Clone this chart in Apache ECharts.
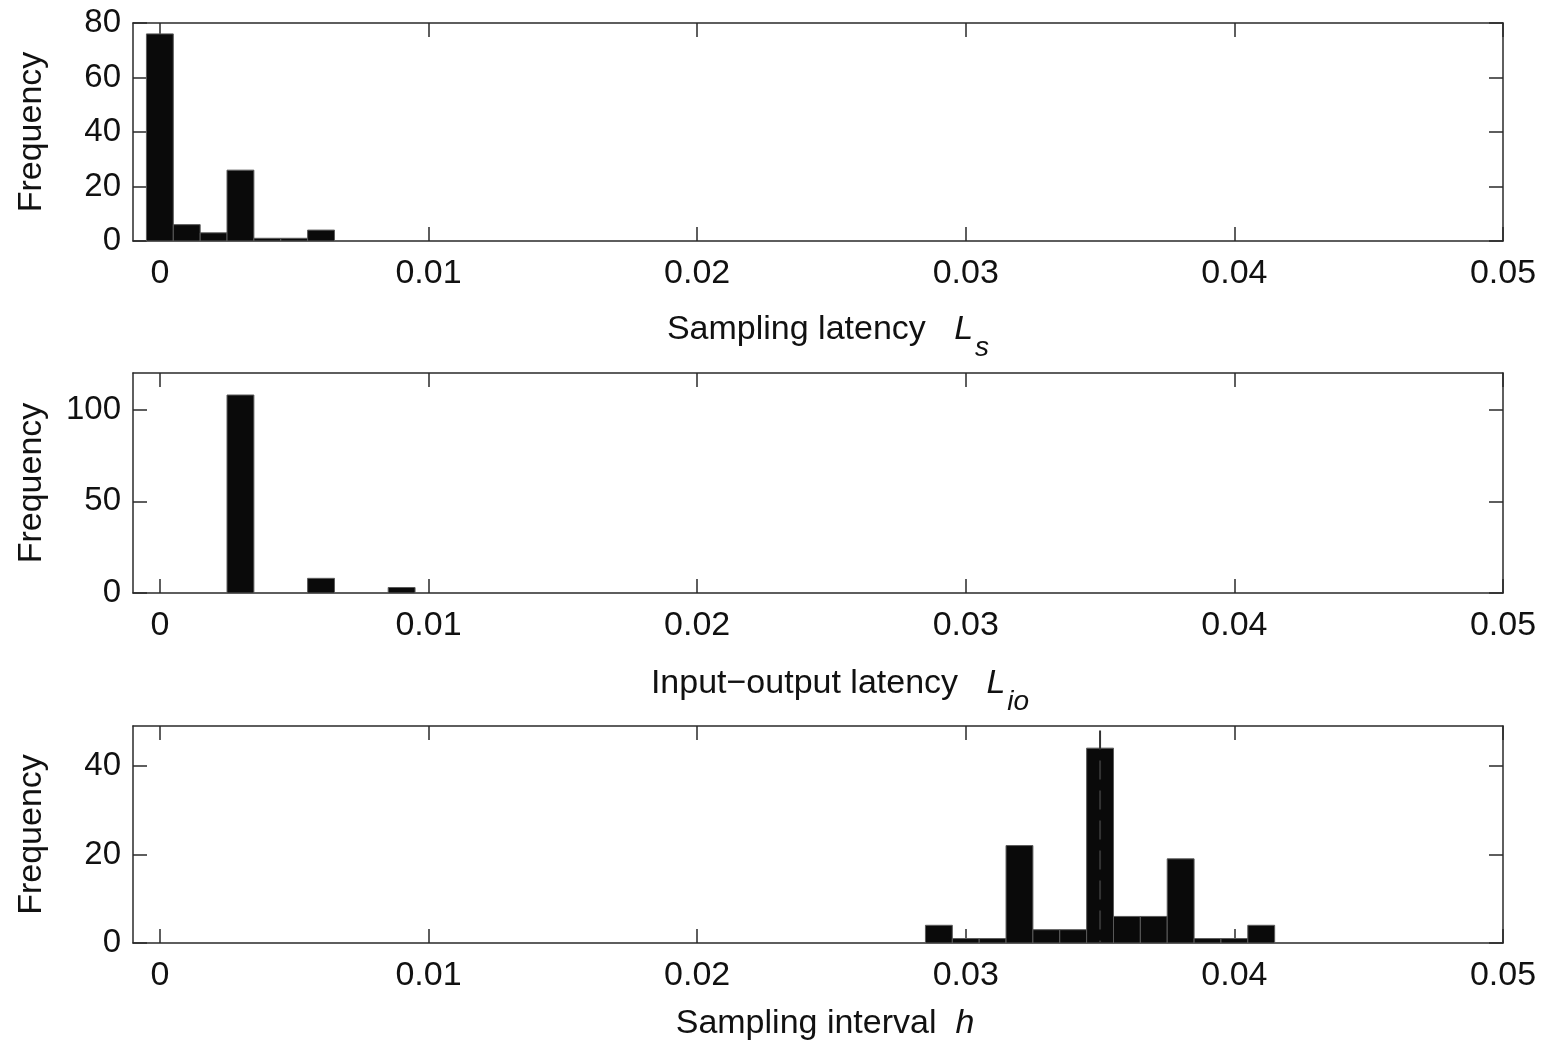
<!DOCTYPE html>
<html>
<head>
<meta charset="utf-8">
<script src="https://cdn.jsdelivr.net/npm/echarts@6/dist/echarts.min.js"></script>
<style>
html,body{margin:0;padding:0;background:#fff;}
#chart{width:1547px;height:1043px;}
</style>
</head>
<body>
<div id="chart"></div>
<script>
// ---- data ----
const binWidth = 0.001;
const xTickValues = [0, 0.01, 0.02, 0.03, 0.04, 0.05];
const xTickLabels = ['0', '0.01', '0.02', '0.03', '0.04', '0.05'];

const lsCenters = [0, 0.001, 0.002, 0.003, 0.004, 0.005, 0.006];
const lsCounts  = [76, 6, 3, 26, 1, 1, 4];
const lsYTicks  = [0, 20, 40, 60, 80];

const lioCenters = [0.003, 0.006, 0.009];
const lioCounts  = [108, 8, 3];
const lioYTicks  = [0, 50, 100];

const hCenters = [0.029, 0.030, 0.031, 0.032, 0.033, 0.034, 0.035, 0.036, 0.037, 0.038, 0.039, 0.040, 0.041];
const hCounts  = [4, 1, 1, 22, 3, 3, 44, 6, 6, 19, 1, 1, 4];
const hYTicks  = [0, 20, 40];
const hMarker  = [[0.035, 48], [0.035, 0]];

const panels = [
  {centers: lsCenters, counts: lsCounts, yTicks: lsYTicks, yMax: 80, top: 23, height: 218, gap: 68, shift: 20,
   name: '{n|Sampling latency  }{i| L}{s|s}'},
  {centers: lioCenters, counts: lioCounts, yTicks: lioYTicks, yMax: 120, top: 373, height: 220, gap: 70, shift: 44,
   name: '{n|Input\u2212output latency  }{i| L}{s|io}'},
  {centers: hCenters, counts: hCounts, yTicks: hYTicks, yMax: 49, top: 726, height: 217, gap: 60, shift: 14,
   name: '{n|Sampling interval  }{i|h}'}
];

const FONT = "'Liberation Sans', Arial, sans-serif";
const AX = '#2a2a2a';
const FS = 34;
const grids = [], xAxes = [], yAxes = [], series = [];

panels.forEach((p, i) => {
  grids.push({left: 133, right: 44, top: p.top, height: p.height, containLabel: false});
  const lineStyle = {color: AX, width: 1.5};
  const tickBase = {show: true, inside: true, length: 14, lineStyle: {color: AX, width: 1.5}};
  // bottom x axis
  xAxes.push({
    type: 'value', gridIndex: i, position: 'bottom', min: -0.001, max: 0.05,
    axisLine: {show: true, onZero: false, lineStyle},
    axisTick: Object.assign({customValues: xTickValues}, tickBase),
    axisLabel: {show: true, customValues: xTickValues, margin: 16,
      formatter: v => { const k = xTickValues.findIndex(t => Math.abs(t - v) < 1e-9); return k >= 0 ? xTickLabels[k] : ''; },
      color: '#111', fontSize: FS, fontFamily: FONT, showMinLabel: true, showMaxLabel: true},
    splitLine: {show: false},
    name: p.name, nameLocation: 'middle', nameGap: p.gap,
    nameTextStyle: {
      color: '#111', fontSize: FS, fontFamily: FONT, verticalAlign: 'top',
      padding: [0, 0, 0, p.shift],
      rich: {
        n: {fontSize: FS, fontFamily: FONT, color: '#111', verticalAlign: 'bottom', lineHeight: 38},
        i: {fontSize: FS, fontFamily: FONT, fontStyle: 'italic', color: '#111', verticalAlign: 'bottom', lineHeight: 38},
        s: {fontSize: 28, fontFamily: FONT, fontStyle: 'italic', color: '#111', verticalAlign: 'bottom', lineHeight: 28, padding: [0, 0, -15, 2]}
      }
    }
  });
  // top mirror axis
  xAxes.push({
    type: 'value', gridIndex: i, position: 'top', min: -0.001, max: 0.05,
    axisLine: {show: true, onZero: false, lineStyle},
    axisTick: Object.assign({customValues: xTickValues}, tickBase),
    axisLabel: {show: false}, splitLine: {show: false}
  });
  // left y axis
  yAxes.push({
    type: 'value', gridIndex: i, position: 'left', min: 0, max: p.yMax,
    axisLine: {show: true, onZero: false, lineStyle},
    axisTick: Object.assign({customValues: p.yTicks}, tickBase),
    axisLabel: {show: true, customValues: p.yTicks, margin: 12, color: '#111', fontSize: 33, fontFamily: FONT},
    splitLine: {show: false},
    name: 'Frequency', nameLocation: 'middle', nameGap: 84, nameRotate: 90,
    nameTextStyle: {color: '#111', fontSize: FS, fontFamily: FONT}
  });
  // right mirror axis
  yAxes.push({
    type: 'value', gridIndex: i, position: 'right', min: 0, max: p.yMax,
    axisLine: {show: true, onZero: false, lineStyle},
    axisTick: Object.assign({customValues: p.yTicks}, tickBase),
    axisLabel: {show: false}, splitLine: {show: false}
  });

  series.push({
    type: 'custom', xAxisIndex: 2 * i, yAxisIndex: 2 * i,
    data: p.centers.map((c, k) => [c, p.counts[k]]),
    renderItem: (params, api) => {
      const x = api.value(0), y = api.value(1);
      const a = api.coord([x - binWidth / 2, y]);
      const b = api.coord([x + binWidth / 2, 0]);
      return {type: 'rect', shape: {x: a[0], y: a[1], width: b[0] - a[0], height: b[1] - a[1]},
        style: {fill: '#0a0a0a', stroke: '#5a5a5a', lineWidth: 1}};
    },
    z: 2, silent: true
  });
});

// dashed marker in the bottom panel
series.push({
  type: 'line', xAxisIndex: 4, yAxisIndex: 4, data: hMarker, symbol: 'none', silent: true, z: 5,
  lineStyle: {color: '#333333', width: 2, type: [19, 11]}
});

const chart = echarts.init(document.getElementById('chart'), null, {renderer: 'canvas'});
chart.setOption({
  backgroundColor: '#ffffff',
  animation: false,
  grid: grids, xAxis: xAxes, yAxis: yAxes, series: series
});
</script>
</body>
</html>
